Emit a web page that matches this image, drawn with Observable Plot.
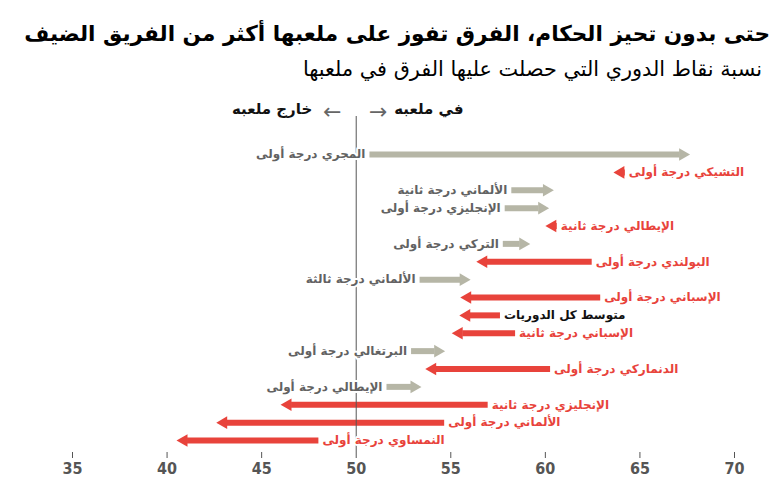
<!DOCTYPE html>
<html><head><meta charset="utf-8">
<script src="https://cdn.jsdelivr.net/npm/d3@7"></script>
<script src="https://cdn.jsdelivr.net/npm/@observablehq/plot@0.6"></script>
<style>
body{margin:0;background:#fff;font-family:"DejaVu Sans",sans-serif;width:780px;height:488px;position:relative;overflow:hidden}
#title{position:absolute;right:10px;top:21px;direction:rtl;font-weight:bold;font-size:21.6px;color:#000;white-space:nowrap}
#subtitle{position:absolute;right:18px;top:57px;direction:rtl;font-size:20.8px;color:#000;white-space:nowrap}
#chart{position:absolute;left:0;top:90px}
</style></head><body>
<div id="title">حتى بدون تحيز الحكام، الفرق تفوز على ملعبها أكثر من الفريق الضيف</div>
<div id="subtitle">نسبة نقاط الدوري التي حصلت عليها الفرق في ملعبها</div>
<div id="chart"></div>
<script>
const leagues = ["المجري درجة أولى","التشيكي درجة أولى","الألماني درجة ثانية","الإنجليزي درجة أولى","الإيطالي درجة ثانية","التركي درجة أولى","البولندي درجة أولى","الألماني درجة ثالثة","الإسباني درجة أولى","متوسط كل الدوريات","الإسباني درجة ثانية","البرتغالي درجة أولى","الدنماركي درجة أولى","الإيطالي درجة أولى","الإنجليزي درجة ثانية","الألماني درجة أولى","النمساوي درجة أولى"];
const startValues = [50.7, 64.2, 58.2, 57.85, 60.6, 57.75, 62.45, 53.35, 62.9, 57.6, 58.4, 52.9, 60.25, 51.6, 56.95, 54.65, 48.0];
const endValues = [67.65, 63.6, 60.45, 60.2, 60.0, 59.2, 56.35, 56.05, 55.5, 55.45, 55.05, 54.7, 53.65, 53.45, 46.0, 42.6, 40.5];
const averageLabel = "متوسط كل الدوريات";
const xTicks = [35, 40, 45, 50, 55, 60, 65, 70];
const xDomain = [35, 70];
const centerValue = 50;
const headerHome = "في ملعبه";
const headerAway = "خارج ملعبه";

const GREY = "#b6b6a6", RED = "#e8433b", LABEL_GREY = "#626262";
const rows = leagues.map((name, i) => ({name, start: startValues[i], end: endValues[i]}));
const up = rows.filter(d => d.end > d.start);
const down = rows.filter(d => d.end <= d.start);
const downRed = down.filter(d => d.name !== averageLabel);
const downAvg = down.filter(d => d.name === averageLabel);

const shaft = (data, color) => Plot.arrow(data, {x1: "start", x2: "end", y1: "name", y2: "name", stroke: color, strokeWidth: 6, headLength: 0, insetEnd: 10.5, strokeLinecap: "butt"});
const head = (data, color, dir) => Plot.dot(data, {x: "end", y: "name", symbol: "triangle", r: 4.7, fill: color, stroke: "none", rotate: dir > 0 ? 90 : -90, dx: dir > 0 ? -7.3 : 7.3});
const labelStyle = {fontSize: 12, fontWeight: "bold", stroke: "white", strokeWidth: 4};

const chart = Plot.plot({
  width: 780, height: 398,
  marginLeft: 72, marginRight: 46, marginTop: 26, marginBottom: 36,
  style: {fontFamily: "DejaVu Sans, sans-serif", color: "#555", background: "white"},
  x: {domain: xDomain, axis: null},
  y: {type: "point", domain: leagues, range: [64, 350], padding: 0, round: false, axis: null},
  marks: [
    shaft(up, GREY), head(up, GREY, 1),
    shaft(down, RED), head(down, RED, -1),
    Plot.ruleX([centerValue], {stroke: "#555", strokeWidth: 1}),
    Plot.axisX({ticks: xTicks, tickSize: 6, tickPadding: 4, fontSize: 16, fontWeight: "bold", fontFamily: "'Liberation Sans Narrow', 'DejaVu Sans Condensed', sans-serif", label: null, anchor: "bottom"}),
    Plot.text(up, {x: "start", y: "name", text: "name", textAnchor: "end", dx: -4, fill: LABEL_GREY, ...labelStyle}),
    Plot.text(downRed, {x: "start", y: "name", text: "name", textAnchor: "start", dx: 4, fill: RED, ...labelStyle}),
    Plot.text(downAvg, {x: "start", y: "name", text: "name", textAnchor: "start", dx: 4, fill: "#111", ...labelStyle}),
    Plot.text([headerHome], {x: () => centerValue, frameAnchor: "top", dy: -13, dx: 38, textAnchor: "start", text: d => d, fill: "#111", fontSize: 15, fontWeight: "bold"}),
    Plot.text(["→"], {x: () => centerValue, frameAnchor: "top", dy: -13, dx: 22, textAnchor: "middle", text: d => d, fill: "#666", fontSize: 22}),
    Plot.text(["←"], {x: () => centerValue, frameAnchor: "top", dy: -13, dx: -24, textAnchor: "middle", text: d => d, fill: "#666", fontSize: 22}),
    Plot.text([headerAway], {x: () => centerValue, frameAnchor: "top", dy: -13, dx: -44, textAnchor: "end", text: d => d, fill: "#111", fontSize: 15, fontWeight: "bold"})
  ]
});
document.getElementById("chart").appendChild(chart);
</script>
</body></html>
